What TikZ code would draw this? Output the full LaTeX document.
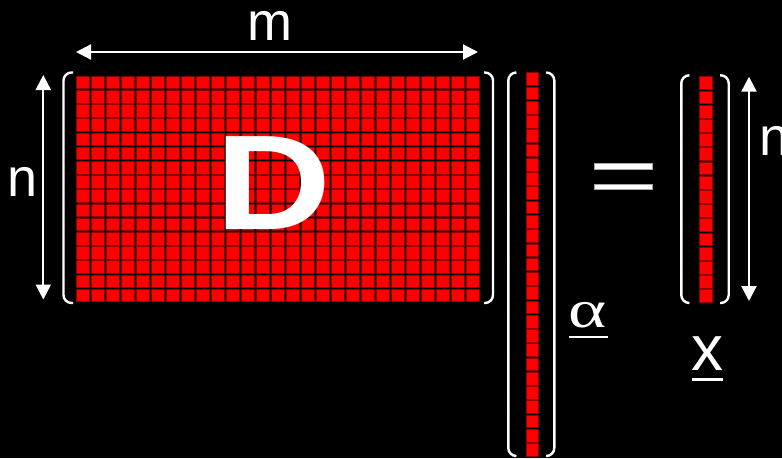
\documentclass[tikz,border=0pt]{standalone}
\usepackage{fontspec}
\setmainfont{Liberation Sans}
\newfontfamily\greekserif{Liberation Serif}
\usetikzlibrary{arrows.meta}
\begin{document}
\begin{tikzpicture}[x=1pt,y=-1pt,
  cell/.style={fill=red, draw=red!55!black, line width=0.6pt},
  brk/.style={draw=white, line width=2.4pt, rounded corners=8pt},
  dimarrow/.style={draw=white, line width=2.2pt,
    {Triangle[length=15pt,width=15pt]}-{Triangle[length=15pt,width=15pt]}},
  lbl/.style={text=white, inner sep=0pt, anchor=base},
  bar/.style={fill=white, draw=gray!70, line width=0.6pt},
  uline/.style={draw=white, line width=2.6pt}]
\fill[black] (0,0) rectangle (782,458);
\useasboundingbox (0,0) rectangle (782,458);
% matrix D
\foreach \i in {0,...,26}{\foreach \j in {0,...,15}{
  \path[cell] ({76+15*\i},{76+14.2*\j}) rectangle ++(13,12.6);}}
% vector alpha
\foreach \j in {0,...,26}{
  \path[cell] (526,{72.7+14.26*\j}) rectangle ++(12.7,12.7);}
% vector x
\foreach \j in {0,...,15}{
  \path[cell] (699.5,{76.7+14.2*\j}) rectangle ++(12.7,12.7);}
% brackets
\draw[brk] (73,72.5) -- (63.5,72.5) -- (63.5,303) -- (73,303);
\draw[brk] (484,72.5) -- (493,72.5) -- (493,303) -- (484,303);
\draw[brk] (516,72.5) -- (508.3,72.5) -- (508.3,456) -- (516,456);
\draw[brk] (547,72.5) -- (554.3,72.5) -- (554.3,456) -- (547,456);
\draw[brk] (689,75.3) -- (681.3,75.3) -- (681.3,303) -- (689,303);
\draw[brk] (720,75.3) -- (728.7,75.3) -- (728.7,303) -- (720,303);
% D letter
\node[text=white, inner sep=0pt, font=\bfseries\fontsize{135}{135}\selectfont] (Dlbl) at (273.5,183.5) {\scalebox{1.19}[1]{D}};
% dimension arrows
\coordinate (mL) at (76,52);
\coordinate (mR) at (478,52);
\coordinate (nLt) at (43.3,75);
\coordinate (nLb) at (43.3,299.5);
\coordinate (nRt) at (749,76.7);
\coordinate (nRb) at (749,301);
\draw[dimarrow] (mL) -- (mR);
\draw[dimarrow] (nLt) -- (nLb);
\draw[dimarrow] (nRt) -- (nRb);
% labels
\node[lbl, font=\fontsize{54}{54}\selectfont] (mlbl) at (270,40) {m};
\node[lbl, font=\fontsize{54}{54}\selectfont] (nlbl) at (22.5,196) {n};
\node[lbl, font=\fontsize{54}{54}\selectfont, anchor=base west] (nrlbl) at (759,155) {n};
\node[lbl, font=\greekserif\fontsize{56}{56}\selectfont] (alpha) at (588,327) {\scalebox{1.3}[0.95]{α}};
\node[lbl, font=\fontsize{64}{64}\selectfont] (xlbl) at (707.5,370) {x};
% underlines
\coordinate (aUl) at (569,337);
\coordinate (aUr) at (608,337);
\coordinate (xUl) at (692,379.5);
\coordinate (xUr) at (723,379.5);
\draw[uline] (aUl) -- (aUr);
\draw[uline] (xUl) -- (xUr);
% equals sign
\path[bar] (594,163.3) rectangle (652,169);
\path[bar] (594,184) rectangle (652,189.7);
\end{tikzpicture}
\end{document}
